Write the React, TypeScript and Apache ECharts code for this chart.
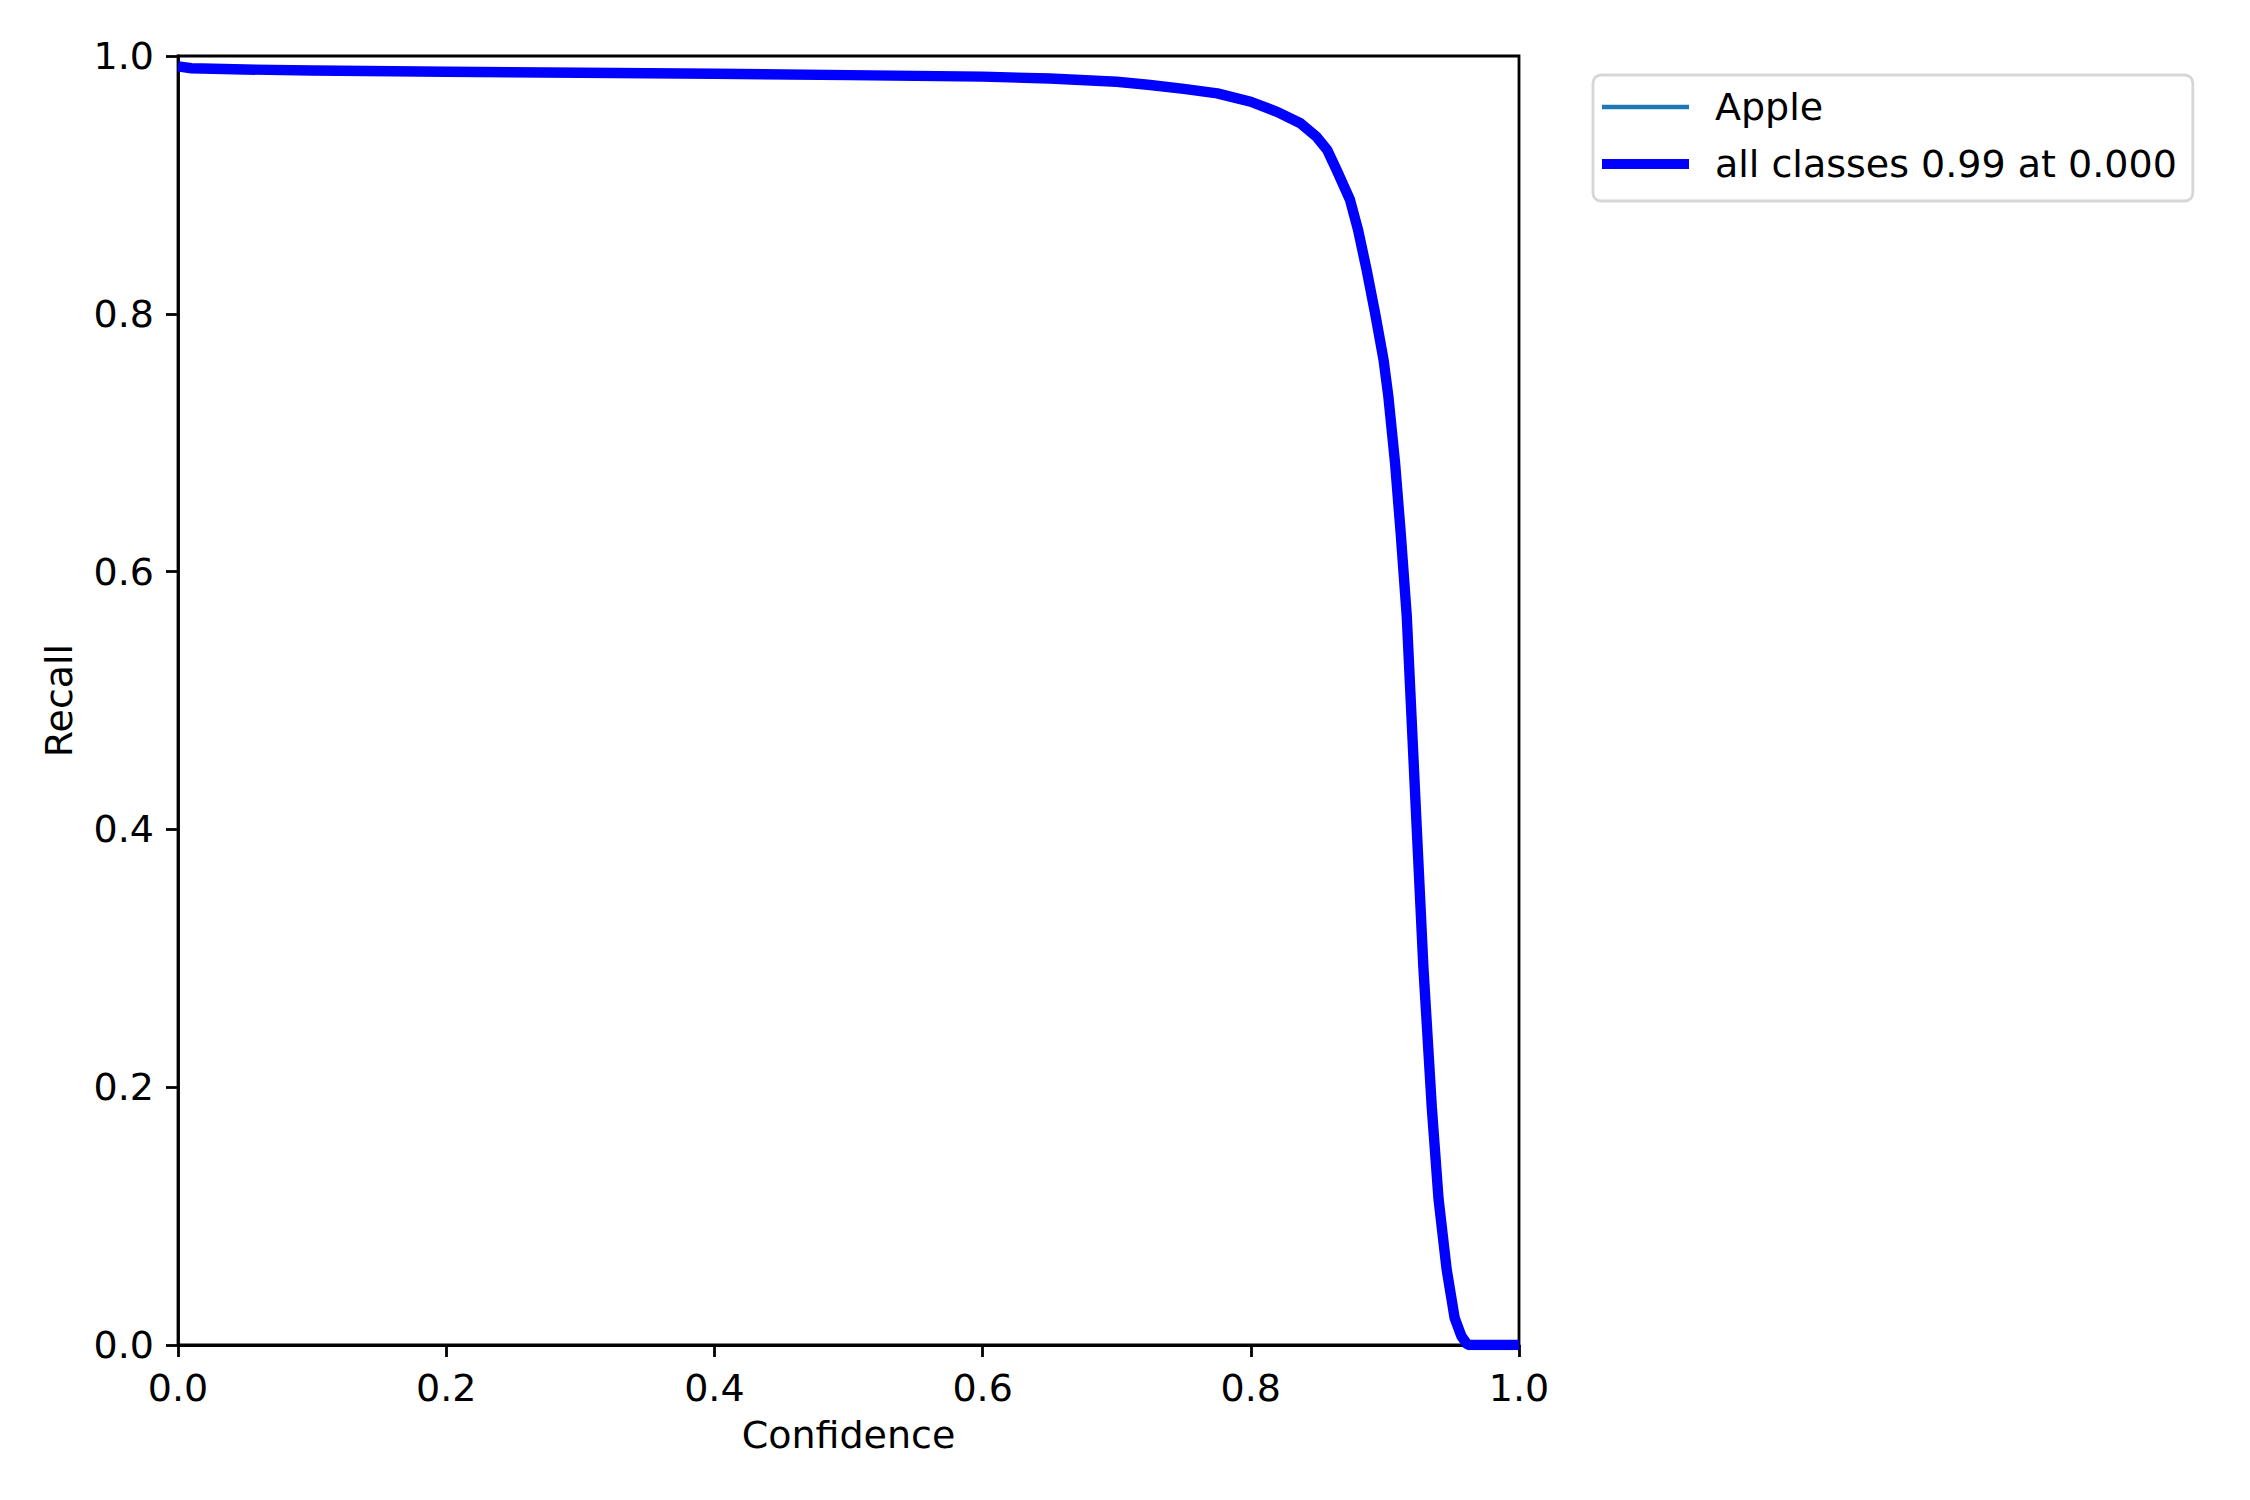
import React, { useEffect, useRef } from "react";
import * as echarts from "echarts";

const confidence = [0, 0.01, 0.05, 0.1, 0.2, 0.3, 0.4, 0.5, 0.6, 0.65, 0.7, 0.725, 0.75, 0.775, 0.8, 0.82, 0.837, 0.849, 0.857, 0.864, 0.874, 0.88, 0.8864, 0.8927, 0.899, 0.9026, 0.9076, 0.9118, 0.9163, 0.9237, 0.9287, 0.935, 0.94, 0.946, 0.952, 0.957, 0.961, 0.963, 1.0];
const allClassesRecall = [0.992, 0.9905, 0.9895, 0.9888, 0.9878, 0.987, 0.9862, 0.9852, 0.984, 0.9825, 0.98, 0.9775, 0.9745, 0.971, 0.9645, 0.9565, 0.9478, 0.9374, 0.927, 0.9116, 0.8883, 0.865, 0.834, 0.8004, 0.7642, 0.7357, 0.684, 0.6297, 0.5655, 0.402, 0.293, 0.184, 0.1133, 0.059, 0.021, 0.007, 0.001, 0, 0];
const appleRecall = allClassesRecall.slice();
const seriesNames = ["Apple", "all classes 0.99 at 0.000"];
const tickValues = [0, 0.2, 0.4, 0.6, 0.8, 1.0];

const FONT = "DejaVu Sans";
const FS = 38;

export default function App() {
  const ref = useRef<HTMLDivElement>(null);
  useEffect(() => {
    if (!ref.current) return;
    const chart = echarts.init(ref.current, null, { renderer: "svg" });
    const pairs = (ys: number[]) => confidence.map((x, i) => [x, ys[i]]);
    const axisCommon = {
      type: "value" as const,
      min: tickValues[0],
      max: tickValues[tickValues.length - 1],
      interval: 0.2,
      splitLine: { show: false },
      axisLine: { show: true, lineStyle: { color: "#000", width: 2.8 } },
      axisTick: { show: true, inside: false, length: 12, lineStyle: { color: "#000", width: 2.8 } },
      axisLabel: {
        color: "#000",
        fontSize: FS,
        fontFamily: FONT,
        margin: 24,
        formatter: (v: number) => v.toFixed(1),
      },
      nameLocation: "middle" as const,
      nameTextStyle: { color: "#000", fontSize: FS, fontFamily: FONT },
    };
    chart.setOption({
      animation: false,
      backgroundColor: "#fff",
      grid: {
        left: 178,
        top: 56,
        width: 1341,
        height: 1289,
        show: true,
        borderColor: "#000",
        borderWidth: 2.8,
        containLabel: false,
      },
      xAxis: { ...axisCommon, name: "Confidence", nameGap: 71 },
      yAxis: { ...axisCommon, name: "Recall", nameGap: 100 },
      legend: {
        orient: "vertical",
        left: 1593,
        top: 75,
        padding: [13, 16, 18, 9],
        itemWidth: 87,
        itemHeight: 10,
        itemGap: 19,
        backgroundColor: "#fff",
        borderColor: "#d6d6d6",
        borderWidth: 2.8,
        borderRadius: 8,
        textStyle: { color: "#000", fontSize: FS, fontFamily: FONT, padding: [0, 0, 0, 21] },
        data: [
          { name: seriesNames[0], icon: "path://M0,0 L80,0 L80,4 L0,4 Z" },
          { name: seriesNames[1], icon: "path://M0,0 L87,0 L87,10 L0,10 Z" },
        ],
      },
      series: [
        {
          name: seriesNames[0],
          type: "line",
          data: pairs(appleRecall),
          showSymbol: false,
          symbol: "none",
          lineStyle: { color: "#1f77b4", width: 3.5, join: "round", cap: "butt" },
          itemStyle: { color: "#1f77b4" },
          clip: true,
          z: 2,
        },
        {
          name: seriesNames[1],
          type: "line",
          data: pairs(allClassesRecall),
          showSymbol: false,
          symbol: "none",
          lineStyle: { color: "#0000ff", width: 10.4, join: "round", cap: "butt" },
          itemStyle: { color: "#0000ff" },
          clip: true,
          z: 3,
        },
      ],
    });
    return () => chart.dispose();
  }, []);
  return (
    <div
      ref={ref}
      style={{ position: "fixed", left: 0, top: 0, width: 2250, height: 1500, background: "#fff" }}
    />
  );
}
